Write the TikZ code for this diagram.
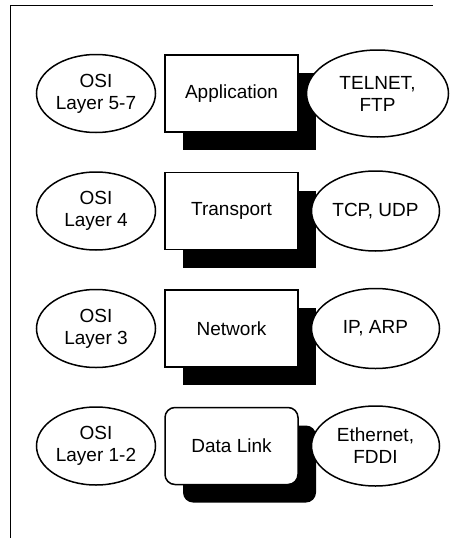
\documentclass[tikz,border=0pt]{standalone}
\usepackage{fontspec}
\setmainfont{Liberation Sans}
\usetikzlibrary{positioning,shapes.geometric,shadows}

\begin{document}
\begin{tikzpicture}[
  x=1pt, y=-1pt,
  node distance=39pt,
  every node/.style={font=\fontsize{19}{22}\selectfont},
  layer/.style={
    draw,
    fill=white,
    line width=1.5pt,
    minimum width=133pt,
    minimum height=77pt,
    drop shadow={fill=black, opacity=1, shadow xshift=18pt, shadow yshift=-18pt}
  },
  osi/.style={
    draw,
    ellipse,
    fill=white,
    line width=1.5pt,
    align=center,
    inner sep=0pt,
    minimum width=119pt,
    minimum height=78pt
  },
  proto/.style={
    draw,
    ellipse,
    fill=white,
    line width=1.5pt,
    align=center,
    inner sep=0pt,
    minimum width=128pt,
    minimum height=80pt
  }
]
\useasboundingbox (0,0) rectangle (460,538);
% open frame, top and left edges only
\draw[line width=0.8pt] (10,538) -- (10,5) -- (433,5);

% the four layers
\node[layer] (app) at (231.5,93.5) {Application};
\node[layer, below=of app] (trans) {Transport};
\node[layer, below=of trans] (net) {Network};
\node[layer, below=of net, rounded corners=10pt] (link) {Data Link};

% OSI equivalents on the left
\node[osi, left=8pt of app] (osiapp) {OSI\\Layer 5-7};
\node[osi, left=8pt of trans] (ositrans) {OSI\\Layer 4};
\node[osi, left=8pt of net] (osinet) {OSI\\Layer 3};
\node[osi, left=8pt of link] (osilink) {OSI\\Layer 1-2};

% protocols on the right
\node[proto, right=7pt of app, minimum width=142pt, minimum height=87pt] (protoapp) {TELNET,\\FTP};
\node[proto, right=12pt of trans] (prototrans) {TCP, UDP};
\node[proto, right=12pt of net] (protonet) {IP, ARP};
\node[proto, right=12pt of link] (protolink) {Ethernet,\\FDDI};
\end{tikzpicture}
\end{document}
